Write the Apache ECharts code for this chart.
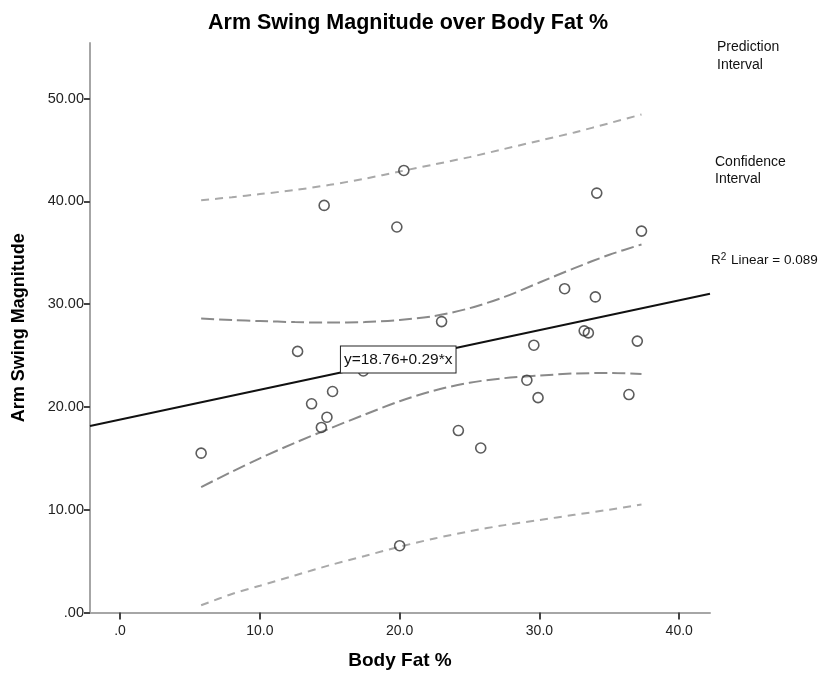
<!DOCTYPE html>
<html>
<head>
<meta charset="utf-8">
<title>Arm Swing Magnitude over Body Fat %</title>
<script src="https://cdn.jsdelivr.net/npm/echarts@6/dist/echarts.min.js"></script>
<style>
  html, body { margin: 0; padding: 0; background: #ffffff; }
  #chart { width: 826px; height: 673px; }
</style>
</head>
<body>
<div id="chart"></div>
<script>
// Observations: body fat (%) and arm swing magnitude
const bodyFat  = [5.8, 12.7, 13.7, 14.4, 14.8, 15.2, 14.6, 17.4, 19.8, 20.3, 20.0, 23.0, 24.2, 25.8, 29.1, 29.6, 29.9, 31.8, 33.2, 33.5, 34.0, 34.1, 36.4, 37.0, 37.3];
const armSwing = [15.5, 25.4, 20.3, 18.0, 19.0, 21.5, 39.6, 23.5, 37.5, 43.0, 6.5, 28.3, 17.7, 16.0, 22.6, 26.0, 20.9, 31.5, 27.4, 27.2, 30.7, 40.8, 21.2, 26.4, 37.1];

// Linear fit, as printed on the fit-line label
const fitIntercept = 18.76;
const fitSlope = 0.29;
const rSquared = '0.089';

// Mean confidence band and individual prediction band, sampled along x
const bandX   = [5.8, 8, 10, 12.5, 15, 17.5, 20, 22.5, 25, 27.5, 30, 32.5, 35, 37.3];
const ciUpper = [28.6, 28.45, 28.35, 28.25, 28.2, 28.25, 28.45, 28.85, 29.6, 30.7, 32.1, 33.5, 34.8, 35.8];
const ciLower = [12.2, 13.7, 15.0, 16.5, 17.9, 19.25, 20.55, 21.6, 22.35, 22.8, 23.05, 23.25, 23.3, 23.2];
const piUpper = [40.1, 40.4, 40.7, 41.1, 41.6, 42.2, 42.9, 43.6, 44.3, 45.1, 45.9, 46.7, 47.6, 48.45];
const piLower = [0.7, 1.8, 2.6, 3.6, 4.6, 5.5, 6.4, 7.2, 7.9, 8.5, 9.0, 9.5, 10.0, 10.5];

// Axis ranges and tick labels
const xRange = [-2.15, 42.2];
const yRange = [0, 55.4];
const xTicks = [0, 10, 20, 30, 40];
const xTickLabels = ['.0', '10.0', '20.0', '30.0', '40.0'];
const yTicks = [0, 10, 20, 30, 40, 50];
const yTickLabels = ['.00', '10.00', '20.00', '30.00', '40.00', '50.00'];

// x position where the equation label sits on the fit line
const eqLabelX = 15.8;

const FONT = '"Liberation Sans", Arial, Helvetica, sans-serif';

const fitAt = x => fitIntercept + fitSlope * x;
const fitLine = xRange.map(x => [x, fitAt(x)]);
const zip = (xs, ys) => xs.map((x, i) => [x, ys[i]]);
const points = zip(bodyFat, armSwing);

const chart = echarts.init(document.getElementById('chart'), null, { renderer: 'canvas' });

const bandSeries = (name, data, color, dash) => ({
  name: name,
  type: 'line',
  data: data,
  smooth: 0.3,
  showSymbol: false,
  symbol: 'none',
  silent: true,
  z: 1,
  lineStyle: { color: color, width: 2, type: dash }
});

chart.setOption({
  animation: false,
  backgroundColor: '#ffffff',
  title: {
    text: 'Arm Swing Magnitude over Body Fat %',
    left: 203,
    top: 7,
    textStyle: { fontFamily: FONT, fontSize: 21.5, fontWeight: 'bold', color: '#000000' }
  },
  grid: { left: 90, right: 116, top: 43, bottom: 60.5, containLabel: false, outerBoundsMode: 'none' },
  xAxis: {
    type: 'value',
    min: xRange[0],
    max: xRange[1],
    name: 'Body Fat %',
    nameLocation: 'middle',
    nameGap: 39,
    nameTextStyle: { fontFamily: FONT, fontSize: 19, fontWeight: 'bold', color: '#000000' },
    splitLine: { show: false },
    axisLine: { show: true, onZero: false, lineStyle: { color: '#a6a6a6', width: 2 } },
    axisTick: { show: true, customValues: xTicks, length: 7, lineStyle: { color: '#444444', width: 2 } },
    axisLabel: {
      customValues: xTicks,
      formatter: v => xTickLabels[xTicks.indexOf(Math.round(v))],
      fontFamily: FONT, fontSize: 14, color: '#222222', margin: 12
    }
  },
  yAxis: {
    type: 'value',
    min: yRange[0],
    max: yRange[1],
    name: 'Arm Swing Magnitude',
    nameLocation: 'middle',
    nameGap: 62,
    nameTextStyle: { fontFamily: FONT, fontSize: 18, fontWeight: 'bold', color: '#000000' },
    splitLine: { show: false },
    axisLine: { show: true, onZero: false, lineStyle: { color: '#a6a6a6', width: 2 } },
    axisTick: { show: true, customValues: yTicks, length: 6, lineStyle: { color: '#444444', width: 2 } },
    axisLabel: {
      customValues: yTicks,
      formatter: v => yTickLabels[yTicks.indexOf(Math.round(v))],
      fontFamily: FONT, fontSize: 14.5, color: '#222222', margin: 6
    }
  },
  series: [
    bandSeries('Prediction Interval Upper', zip(bandX, piUpper), '#a9a9a9', [8, 6]),
    bandSeries('Prediction Interval Lower', zip(bandX, piLower), '#a9a9a9', [8, 6]),
    bandSeries('Confidence Interval Upper', zip(bandX, ciUpper), '#8a8a8a', [13, 5]),
    bandSeries('Confidence Interval Lower', zip(bandX, ciLower), '#8a8a8a', [13, 5]),
    {
      name: 'Linear Fit',
      type: 'line',
      data: fitLine,
      showSymbol: false,
      symbol: 'none',
      silent: true,
      z: 2,
      lineStyle: { color: '#111111', width: 2 },
      markPoint: {
        symbol: 'circle',
        symbolSize: 0,
        silent: true,
        data: [{ coord: [eqLabelX, fitAt(eqLabelX)] }],
        label: {
          show: true,
          position: [0, -26],
          formatter: 'y=' + fitIntercept.toFixed(2) + '+' + fitSlope.toFixed(2) + '*x',
          fontFamily: FONT,
          fontSize: 15.5,
          lineHeight: 18,
          color: '#111111',
          backgroundColor: '#ffffff',
          borderColor: '#222222',
          borderWidth: 1,
          padding: [4, 3, 4, 3]
        }
      }
    },
    {
      name: 'Observations',
      type: 'scatter',
      data: points,
      symbol: 'circle',
      symbolSize: 10,
      z: 3,
      itemStyle: { color: 'rgba(255,255,255,0)', borderColor: '#333333', borderWidth: 1.6 }
    }
  ],
  graphic: [
    {
      type: 'text', left: 717, top: 38,
      style: { text: 'Prediction\nInterval', font: '14px ' + FONT, fill: '#111111', lineHeight: 18 }
    },
    {
      type: 'text', left: 715, top: 154,
      style: { text: 'Confidence\nInterval', font: '14px ' + FONT, fill: '#111111', lineHeight: 17 }
    },
    {
      type: 'text', left: 711, top: 252,
      style: {
        text: 'R{sup|2} Linear = ' + rSquared,
        font: '13.5px ' + FONT,
        fill: '#111111',
        rich: {
          sup: { fontSize: 10, fontFamily: FONT, verticalAlign: 'top', padding: [0, 1, 6, 0], fill: '#111111' }
        }
      }
    }
  ]
});
</script>
</body>
</html>
